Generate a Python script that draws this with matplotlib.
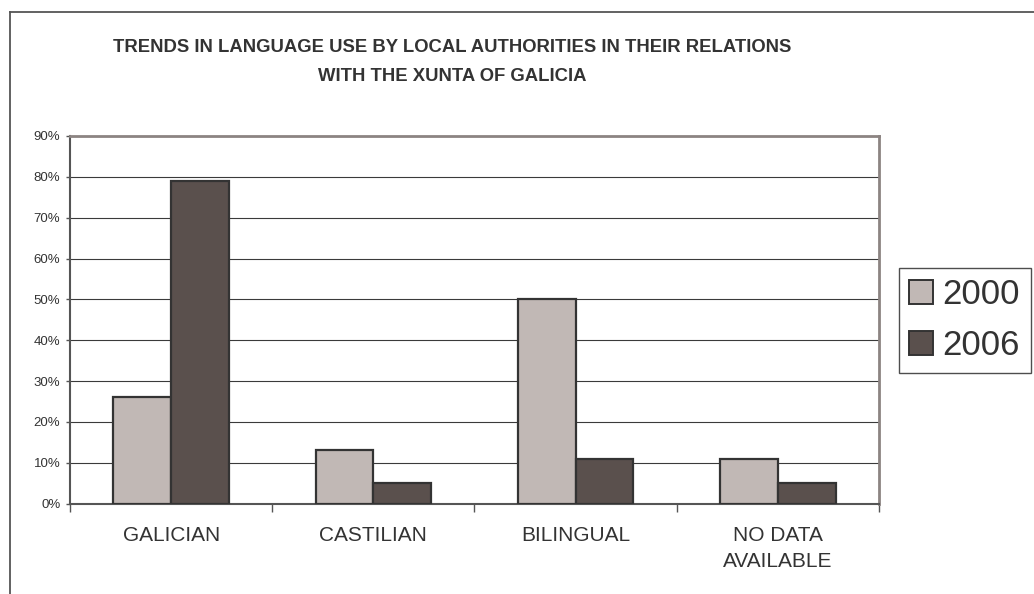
"""
Language use by local authorities with the Xunta of Galicia, 2000 vs 2006
"""

import matplotlib
matplotlib.use("Agg")
import matplotlib.pyplot as plt
from matplotlib.lines import Line2D
from matplotlib.patches import Patch
from matplotlib.ticker import FuncFormatter
import numpy as np

plt.rcParams["font.family"] = ["Liberation Sans", "DejaVu Sans"]

categories = ["GALICIAN", "CASTILIAN", "BILINGUAL", "NO DATA\nAVAILABLE"]
years = ["2000", "2006"]
share_2000 = [26, 13, 50, 11]
share_2006 = [79, 5, 11, 5]

title_lines = ["TRENDS IN LANGUAGE USE BY LOCAL AUTHORITIES IN THEIR RELATIONS",
               "WITH THE XUNTA OF GALICIA"]

light = "#C1B8B5"
dark = "#5A504D"
edge = "#333333"
text_col = "#333333"


def main():
    fig = plt.figure(figsize=(10.34, 5.94), dpi=100)
    W, H = 1034, 594
    ax = fig.add_axes([70 / W, 1 - 503.5 / H, (879 - 70) / W, (503.5 - 136) / H])

    x = np.arange(len(categories))
    width = 0.286
    ax.bar(x - width / 2, share_2000, width, color=light, edgecolor=edge, linewidth=1.6, zorder=3)
    ax.bar(x + width / 2, share_2006, width, color=dark, edgecolor=edge, linewidth=1.6, zorder=3)

    ax.set_xlim(-0.5, len(categories) - 0.5)
    ax.set_ylim(0, 90)
    ax.set_yticks(np.arange(0, 91, 10))
    ax.yaxis.set_major_formatter(FuncFormatter(lambda v, _: f"{v:.0f}%"))
    ax.grid(axis="y", color="#3a3a3a", linewidth=0.8, zorder=0)

    # category separators as major ticks, labels on minor ticks
    ax.set_xticks(np.arange(-0.5, len(categories), 1.0))
    ax.set_xticklabels([])
    ax.set_xticks(x, minor=True)
    ax.set_xticklabels(categories, minor=True, fontsize=15, color=text_col, linespacing=1.5)
    ax.tick_params(axis="x", which="major", length=6, color="#555555", width=1)
    ax.tick_params(axis="x", which="minor", length=0, pad=16)
    ax.tick_params(axis="y", length=3, color="#555555", width=1, labelsize=9.5,
                   labelcolor=text_col, pad=4)

    for side in ("left", "bottom"):
        ax.spines[side].set_color("#555555")
        ax.spines[side].set_linewidth(1.5)
    for side in ("top", "right"):
        ax.spines[side].set_color("#8C8482")
        ax.spines[side].set_linewidth(2)

    for line, base in zip(title_lines, (52, 81)):
        fig.text(452 / W, 1 - base / H, line, ha="center", va="baseline",
                 fontsize=13.3, fontweight="bold", color=text_col)

    # outer chart frame (cropped at right and bottom)
    fig.add_artist(Line2D([9.5 / W, 9.5 / W], [0, 1 - 12 / H], transform=fig.transFigure,
                          color="#555555", linewidth=1.3))
    fig.add_artist(Line2D([9.5 / W, 1], [1 - 12 / H, 1 - 12 / H], transform=fig.transFigure,
                          color="#555555", linewidth=1.3))

    handles = [Patch(facecolor=light, edgecolor=edge, linewidth=1.4),
               Patch(facecolor=dark, edgecolor=edge, linewidth=1.4)]
    leg = fig.legend(handles, years, loc="upper left",
                     bbox_to_anchor=(899 / W, 1 - 268 / H), fontsize=25,
                     frameon=True, fancybox=False, edgecolor="#222222",
                     handlelength=0.68, handleheight=0.68, handletextpad=0.28,
                     borderpad=0.3, borderaxespad=0, labelspacing=0.52)
    leg.get_frame().set_linewidth(1)
    for t in leg.get_texts():
        t.set_color(text_col)

    fig.savefig("out.png", dpi=100)
    plt.close(fig)


if __name__ == "__main__":
    main()
